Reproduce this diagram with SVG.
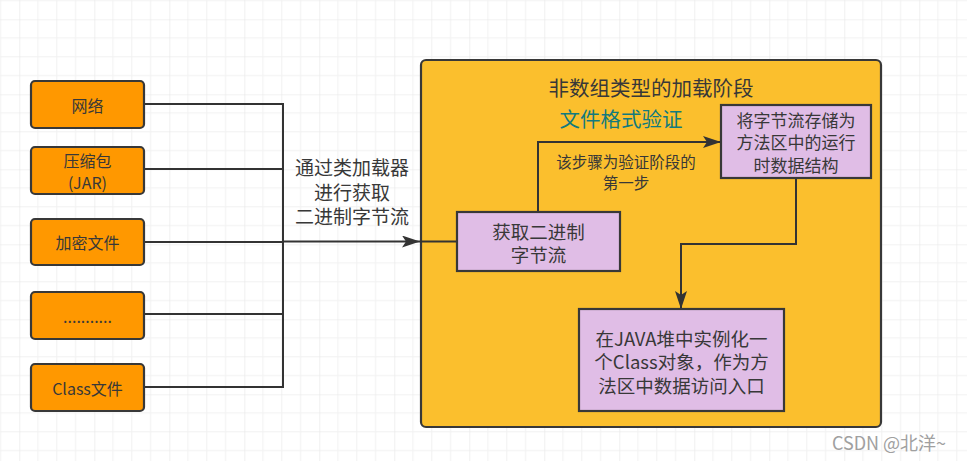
<svg xmlns="http://www.w3.org/2000/svg" width="967" height="461" viewBox="0 0 967 461">
<style>
.src rect{fill:#FF9800;stroke:#383838;stroke-width:2.2}
.stage rect{fill:#E0BDE6;stroke:#383838;stroke-width:2.2}
text{font-family:"Noto Sans CJK SC","Noto Sans",sans-serif;fill:#383838;text-anchor:middle;dominant-baseline:central}
.edge{fill:none;stroke:#333;stroke-width:2}
</style>
<defs>
<pattern id="grid" width="75" height="75" patternUnits="userSpaceOnUse" patternTransform="translate(19.3 19.3)">
<path d="M18.75 0V75M37.5 0V75M56.25 0V75M0 18.75H75M0 37.5H75M0 56.25H75" stroke="#f1f1f1" stroke-width="1" fill="none"/>
<path d="M0 0V75M0 0H75" stroke="#e6e6e6" stroke-width="1.2" fill="none"/>
</pattern>
<marker id="ah" viewBox="0 0 18 12" refX="18" refY="6" markerWidth="18" markerHeight="12" markerUnits="userSpaceOnUse" orient="auto">
<path d="M0 0L18 6L0 12L4 6Z" fill="#333"/>
</marker>
</defs>
<rect width="967" height="461" fill="#fff"/>
<rect width="967" height="461" fill="url(#grid)"/>

<g id="container">
<rect x="421" y="60" width="460" height="367" rx="5" fill="#FBBF2D" stroke="#383838" stroke-width="2.2"/>
<text x="651" y="87" font-size="20.5">非数组类型的加载阶段</text>
<text x="621" y="118" font-size="20.5" style="fill:#127a7e">文件格式验证</text>
</g>

<g id="connectors">
<path class="edge" d="M144 104H283V387H144"/>
<path class="edge" d="M144 169H283"/>
<path class="edge" d="M144 314H283"/>
<path class="edge" d="M144 242H283"/>
<path class="edge" d="M283 241.5H420" stroke-width="2.6" marker-end="url(#ah)"/>
<path class="edge" d="M420 241.5H457"/>
<path class="edge" d="M538 212V142H721" marker-end="url(#ah)"/>
<path class="edge" d="M796 178V244H681V309" marker-end="url(#ah)"/>
<text x="352" y="166.5" font-size="19">通过类加载器</text>
<text x="352" y="191" font-size="19">进行获取</text>
<text x="352" y="215.5" font-size="19">二进制字节流</text>
<text x="626" y="160.5" font-size="15.5">该步骤为验证阶段的</text>
<text x="626" y="181.5" font-size="15.5">第一步</text>
</g>

<g id="src-network" class="src">
<rect x="31" y="81" width="113" height="47" rx="4"/>
<text x="87.5" y="104.5" font-size="16">网络</text>
</g>
<g id="src-jar" class="src">
<rect x="31" y="147" width="113" height="47" rx="4"/>
<text x="87.5" y="159.5" font-size="16">压缩包</text>
<text x="87.5" y="181.5" font-size="16">(JAR)</text>
</g>
<g id="src-encrypted" class="src">
<rect x="31" y="219" width="113" height="46" rx="4"/>
<text x="87.5" y="242" font-size="16">加密文件</text>
</g>
<g id="src-more" class="src">
<rect x="31" y="292" width="113" height="47" rx="4"/>
<text x="87.5" y="316" font-size="16">...........</text>
</g>
<g id="src-class" class="src">
<rect x="31" y="364" width="113" height="47" rx="4"/>
<text x="87.5" y="387.5" font-size="16">Class文件</text>
</g>

<g id="step-get" class="stage">
<rect x="457" y="212" width="163" height="59"/>
<text x="538.5" y="230.5" font-size="18.5">获取二进制</text>
<text x="538.5" y="254" font-size="18.5">字节流</text>
</g>
<g id="step-store" class="stage">
<rect x="721" y="105" width="150" height="73"/>
<text x="796" y="119" font-size="17">将字节流存储为</text>
<text x="796" y="141.5" font-size="17">方法区中的运行</text>
<text x="796" y="164" font-size="17">时数据结构</text>
</g>
<g id="step-class" class="stage">
<rect x="579" y="309" width="205" height="102"/>
<text x="681.5" y="337.5" font-size="18.5">在JAVA堆中实例化一</text>
<text x="681.5" y="361" font-size="18.5">个Class对象，作为方</text>
<text x="681.5" y="384.5" font-size="18.5">法区中数据访问入口</text>
</g>

<text x="889" y="442" font-size="18" style="fill:#a0a0a0">CSDN @北洋~</text>
</svg>
